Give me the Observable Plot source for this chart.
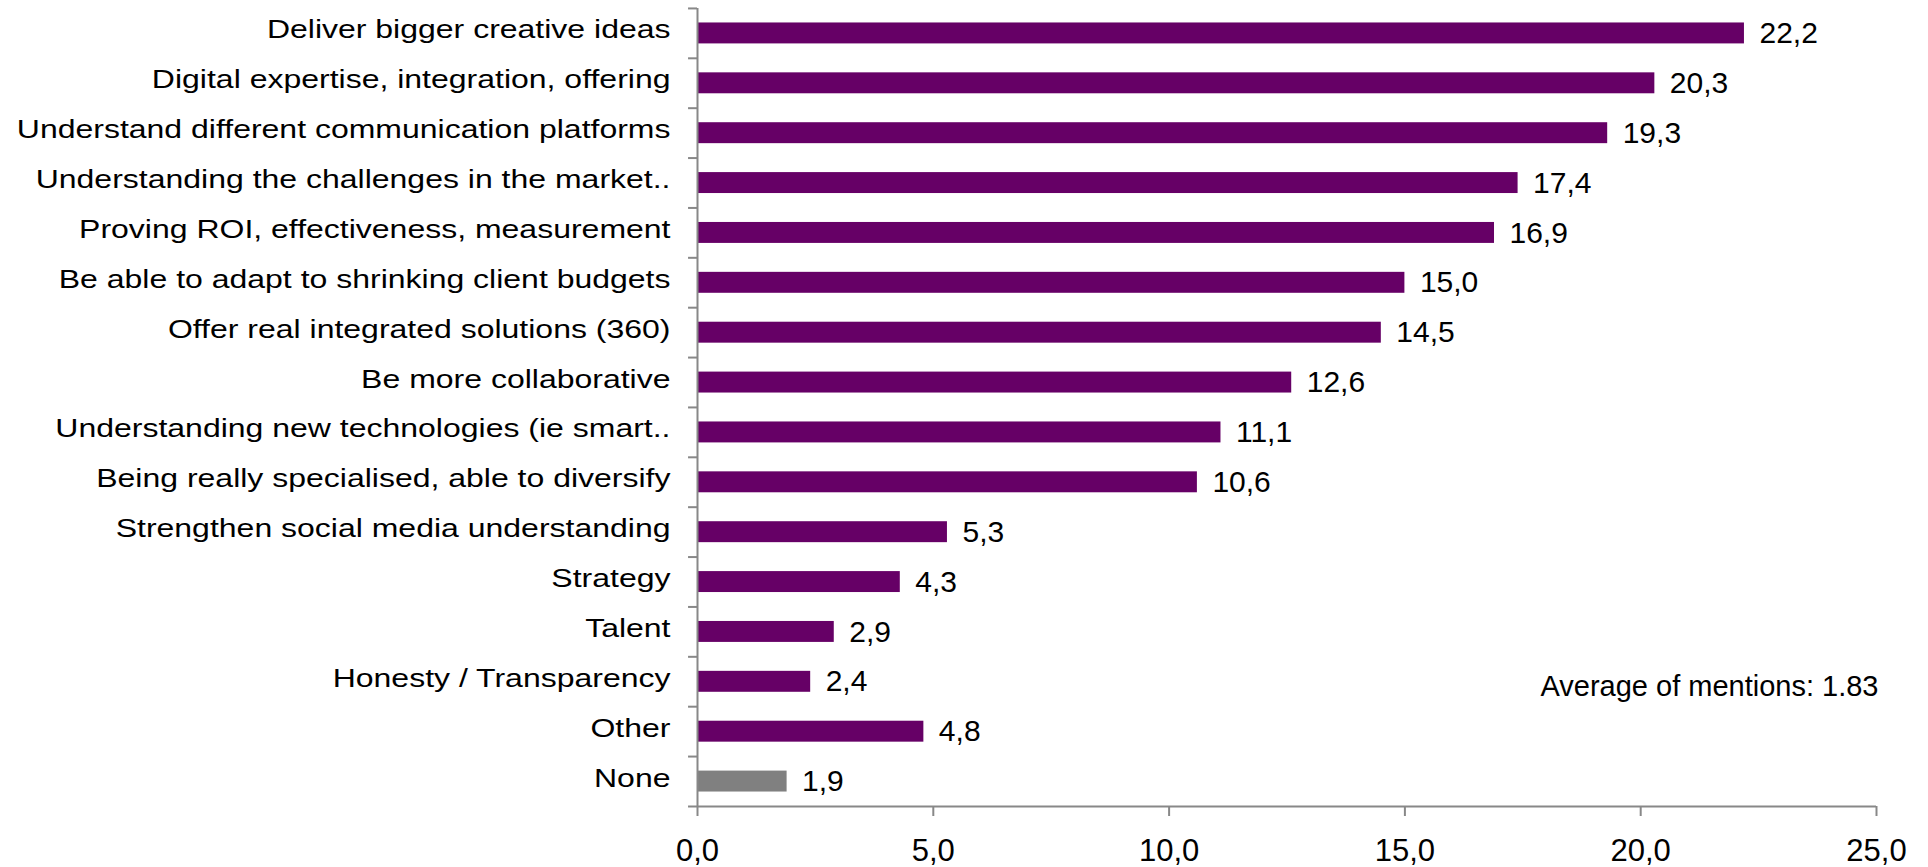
<!DOCTYPE html>
<html>
<head>
<meta charset="utf-8">
<script src="https://cdn.jsdelivr.net/npm/d3@7"></script>
<script src="https://cdn.jsdelivr.net/npm/@observablehq/plot@0.6"></script>
<style>
  html, body { margin: 0; padding: 0; background: #ffffff; }
  #chart { width: 1928px; height: 867px; }
</style>
</head>
<body>
<div id="chart"></div>
<script>
const categories = [
  "Deliver bigger creative ideas",
  "Digital expertise, integration, offering",
  "Understand different communication platforms",
  "Understanding the challenges in the market..",
  "Proving ROI, effectiveness, measurement",
  "Be able to adapt to shrinking client budgets",
  "Offer real integrated solutions (360)",
  "Be more collaborative",
  "Understanding new technologies (ie smart..",
  "Being really specialised, able to diversify",
  "Strengthen social media understanding",
  "Strategy",
  "Talent",
  "Honesty / Transparency",
  "Other",
  "None"
];
const values = [22.2, 20.3, 19.3, 17.4, 16.9, 15.0, 14.5, 12.6, 11.1, 10.6, 5.3, 4.3, 2.9, 2.4, 4.8, 1.9];
const xTicks = [0, 5, 10, 15, 20, 25];
const annotation = "Average of mentions: 1.83";
const annotationRow = "Honesty / Transparency";
const greyCategory = "None";

const data = categories.map((c, i) => ({category: c, value: values[i]}));
const fmt = v => v.toFixed(1).replace(".", ",");
const PURPLE = "#660066";
const GREY = "#808080";
const AXIS = "#888888";
const FONT = "'Liberation Sans', Arial, Helvetica, sans-serif";

const chart = Plot.plot({
  width: 1928,
  height: 867,
  marginLeft: 697,
  marginRight: 52,
  marginTop: 8,
  marginBottom: 61,
  style: {fontFamily: FONT, background: "#ffffff", color: "#000000"},
  x: {domain: [0, 25], ticks: xTicks},
  y: {domain: categories, paddingInner: 0.58, paddingOuter: 0.29, round: false},
  marks: [
    Plot.barX(data, {x: "value", y: "category", fill: d => d.category === greyCategory ? GREY : PURPLE}),
    Plot.ruleX([0], {stroke: AXIS, strokeWidth: 2}),
    Plot.ruleY(data, {y: "category", x1: -0.19, x2: 0, dy: -25, stroke: AXIS, strokeWidth: 2}),
    Plot.ruleY([greyCategory], {y: d => d, x1: -0.19, x2: 25, dy: 25, stroke: AXIS, strokeWidth: 2}),
    Plot.axisX({ticks: xTicks, tickFormat: fmt, tickSize: 10, tickPadding: 22, fontSize: 31, stroke: AXIS, strokeWidth: 2, fill: "#000000", label: null}),
    Plot.axisY({tickSize: 0, tickPadding: 27, fontSize: 25, dy: -3, fill: "#000000", label: null}),
    Plot.text(data, {x: "value", y: "category", text: d => fmt(d.value), dx: 15, textAnchor: "start", fontSize: 30, fill: "#000000"}),
    Plot.text([annotation], {x: () => 25, y: () => annotationRow, text: d => d, textAnchor: "end", dx: 2, dy: 5, fontSize: 29, fill: "#000000"})
  ]
});

// Reference category labels are horizontally stretched
chart.querySelectorAll('g[aria-label="y-axis tick label"] text').forEach(t => {
  const tr = t.getAttribute("transform") || "";
  t.setAttribute("transform", tr + " scale(1.28,1)");
});

document.getElementById("chart").appendChild(chart);
</script>
</body>
</html>
